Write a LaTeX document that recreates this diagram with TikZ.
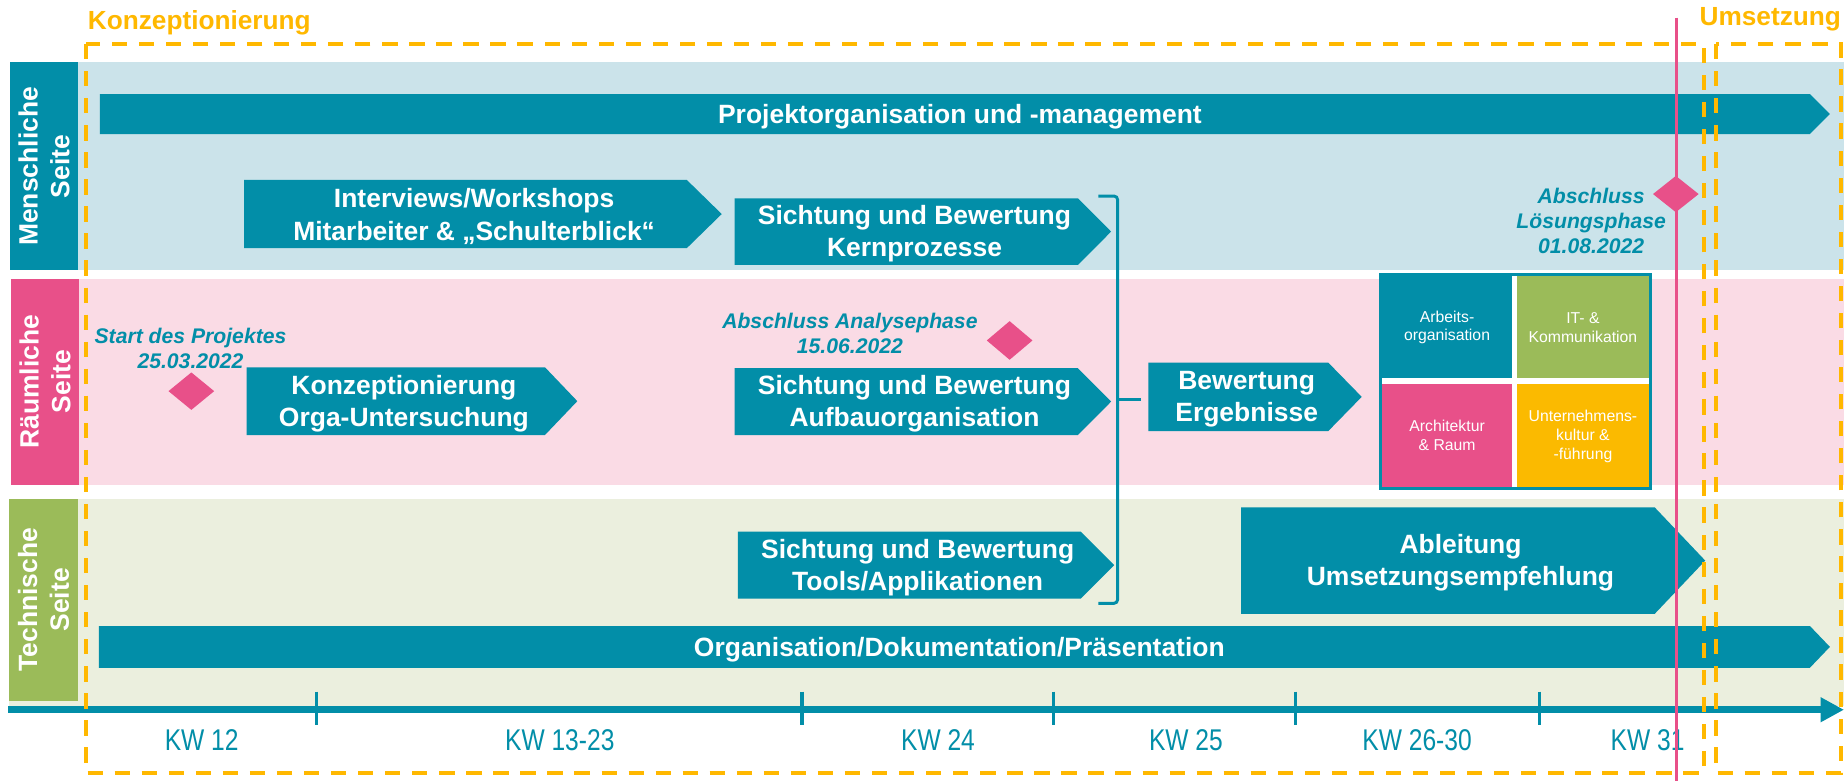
\documentclass[tikz,border=0pt]{standalone}
\usepackage{fontspec}
\setmainfont{Liberation Sans}
\newfontfamily\narrowfont[FakeStretch=0.82]{Liberation Sans}
\usetikzlibrary{arrows.meta,shapes.geometric}
\definecolor{cteal}{RGB}{2,142,168}
\definecolor{cbandblue}{RGB}{203,227,234}
\definecolor{cbandpink}{RGB}{250,219,229}
\definecolor{cbandgreen}{RGB}{235,239,222}
\definecolor{cpink}{RGB}{232,80,137}
\definecolor{cgreen}{RGB}{155,187,89}
\definecolor{corange}{RGB}{251,186,0}
\definecolor{cdash}{RGB}{255,184,0}
\tikzset{
  bartext/.style={text=white, font=\fontsize{22.5}{27.5}\selectfont\bfseries, align=center, inner sep=0},
  mstext/.style={text=cteal, font=\fontsize{18}{21.5}\selectfont\bfseries\itshape, align=center, inner sep=0},
  kwlabel/.style={text=cteal, font=\narrowfont\fontsize{25.5}{28}\selectfont, anchor=base, inner sep=0},
  celltext/.style={text=white, font=\fontsize{13.4}{16}\selectfont, align=center, inner sep=0},
  sidelabel/.style={text=white, font=\fontsize{22.5}{27}\selectfont\bfseries, align=center, rotate=90, inner sep=0},
  phase/.style={text=cdash, font=\fontsize{22.3}{26}\selectfont\bfseries, inner sep=0, anchor=base west},
  milestone/.style={diamond, fill=cpink, inner sep=0, minimum width=39pt, minimum height=32pt},
  phasebox/.style={draw=cdash, line width=3.4pt, dash pattern=on 13pt off 10pt},
  ticksty/.style={draw=cteal, line width=3pt},
  bracketsty/.style={draw=cteal, line width=2.5pt, rounded corners=3pt},
}
\newcommand\chevbar[7]{%
  \fill[cteal] (#2,#5) -- (#3,#5) -- (#4,{(#5+#6)/2}) -- (#3,#6) -- (#2,#6) -- cycle;
  \node[bartext] (#1) at ({(2*#2+#3+#4)/4},{(#5+#6)/2+2}) {#7};}
\begin{document}
\begin{tikzpicture}[x=1pt,y=-1pt]
\fill[white] (0,0) rectangle (1568,664);
\useasboundingbox (0,0) rectangle (1568,664);
% bands
\fill[cbandblue] (8.5,53) rectangle (1568,230);
\fill[cbandpink] (9.4,237) rectangle (1568,412);
\fill[cbandgreen] (8,424) rectangle (1568,600);
\fill[cteal] (8.5,53) rectangle (66.6,230);
\fill[cpink] (9.4,237) rectangle (67.2,412);
\fill[cgreen] (8,424) rectangle (66,596);
\node[sidelabel] (lblM) at (37.5,141.5) {Menschliche\\Seite};
\node[sidelabel] (lblR) at (38.3,324.5) {Räumliche\\Seite};
\node[sidelabel] (lblT) at (37,510) {Technische\\Seite};
% bars
\chevbar{proj}{85}{1539}{1556}{80}{114}{Projektorganisation und -management}
\chevbar{interv}{207.5}{584}{613.7}{153}{211}{Interviews/Workshops\\Mitarbeiter \& „Schulterblick“}
\chevbar{kern}{624.6}{916.5}{944.8}{168.6}{225.3}{Sichtung und Bewertung\\Kernprozesse}
\chevbar{konz}{209.8}{463.4}{490.9}{312.3}{369.9}{Konzeptionierung\\Orga-Untersuchung}
\chevbar{aufbau}{624.6}{916.5}{944.8}{313}{370}{Sichtung und Bewertung\\Aufbauorganisation}
\chevbar{tools}{627.4}{919}{947.4}{452}{509}{Sichtung und Bewertung\\Tools/Applikationen}
\chevbar{bewert}{976.5}{1129.5}{1157.9}{308.4}{366.5}{Bewertung\\Ergebnisse}
\chevbar{ableit}{1055.3}{1407}{1450}{431.4}{522}{Ableitung\\Umsetzungsempfehlung}
\chevbar{orgdoc}{84}{1539}{1556}{532.3}{567.8}{Organisation/Dokumentation/Präsentation}
% bracket
\coordinate (brTop) at (934,166.7);
\coordinate (brBot) at (934,513);
\coordinate (brJoin) at (950.3,339.5);
\coordinate (brMid) at (970,339.5);
\draw[bracketsty] (brTop) -- (950.3,166.7) -- (950.3,513) -- (brBot);
\draw[cteal, line width=2.5pt] (brJoin) -- (brMid);
% matrix
\draw[cteal, line width=2.4pt, fill=white] (1174.2,233.6) rectangle (1403.3,415.5);
\fill[cteal] (1175.5,235) rectangle (1285.4,321.7);
\fill[cgreen] (1289.7,235) rectangle (1402,321.7);
\fill[cpink] (1175.5,326.5) rectangle (1285.4,414.3);
\fill[corange] (1289.7,326.5) rectangle (1402,414.3);
\node[celltext] (c1) at (1230.5,278.4) {Arbeits-\\organisation};
\node[celltext] (c2) at (1346,278.4) {IT- \&\\Kommunikation};
\node[celltext] (c3) at (1230.5,370.4) {Architektur\\\& Raum};
\node[celltext] (c4) at (1346,371) {Unternehmens-\\kultur \&\\-führung};
% milestones
\node[milestone] (msStart) at (162.7,332.6) {};
\node[milestone, minimum height=33pt] (msAnalyse) at (858.5,289.5) {};
\node[milestone, minimum height=31pt] (msLoesung) at (1425,165) {};
\node[mstext] (tStart) at (162,296) {Start des Projektes\\25.03.2022};
\node[mstext] (tAnalyse) at (722.7,283.3) {Abschluss Analysephase\\15.06.2022};
\node[mstext] (tLoesung) at (1353,188) {Abschluss\\Lösungsphase\\01.08.2022};
% axis
\coordinate (axS) at (7,603.5);
\coordinate (axE) at (1568,603.5);
\draw[cteal, line width=6pt, -{Triangle[width=20pt,length=20pt]}] (axS) -- (axE);
\foreach \t in {269,682,895.8,1101.6,1309} \draw[ticksty] (\t,588) -- (\t,616.5);
\node[kwlabel] (kw1) at (171.5,638.5) {KW 12};
\node[kwlabel] (kw2) at (476,638.5) {KW 13-23};
\node[kwlabel] (kw3) at (797.6,638.5) {KW 24};
\node[kwlabel] (kw4) at (1008.4,638.5) {KW 25};
\node[kwlabel] (kw5) at (1205,638.5) {KW 26-30};
\node[kwlabel] (kw6) at (1401,638.5) {KW 31};
% phase boxes
\draw[phasebox] (73,37.5) rectangle (1449,657);
\draw[phasebox] (1459,37.5) rectangle (1565.5,657);
\node[phase] (phK) at (74.5,25) {Konzeptionierung};
\node[phase] (phU) at (1445,21.5) {Umsetzung};
% deadline line
\draw[cpink, line width=2.6pt] (1425.8,15) -- (1425.8,664);
\end{tikzpicture}
\end{document}
